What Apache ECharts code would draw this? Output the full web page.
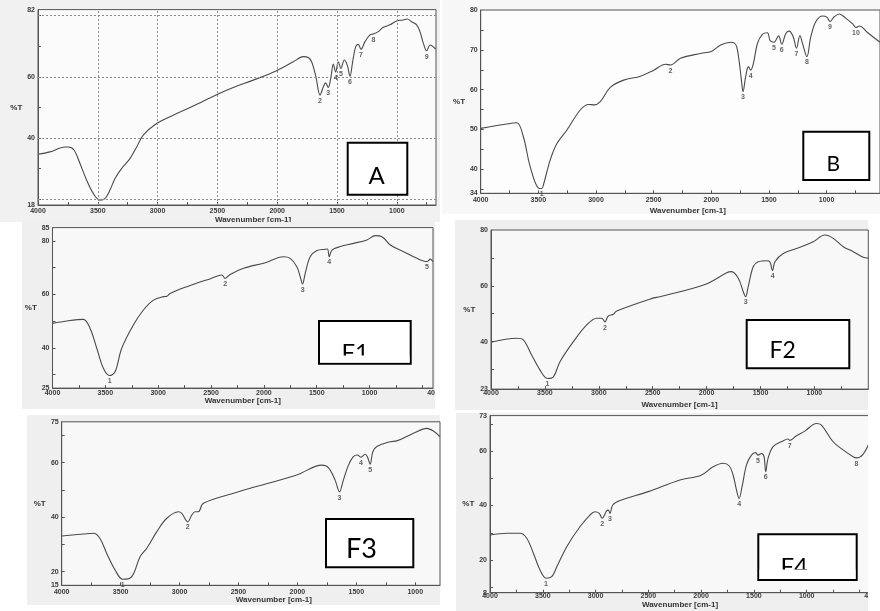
<!DOCTYPE html>
<html><head><meta charset="utf-8">
<script src="https://cdn.jsdelivr.net/npm/echarts@6/dist/echarts.min.js"></script>
<style>html,body{margin:0;padding:0;background:#fff}#c{width:880px;height:611px}</style>
</head><body><div id="c"></div>
<script>
// ---------- DATA (wavenumber cm-1, %T) ----------
const spectrumA = [[4000,34.6],[3900,35.4],[3774,37.0],[3746,37.0],[3699,36.0],[3649,31.6],[3593,26.1],[3538,21.8],[3482,19.6],[3440,20.1],[3398,22.9],[3356,26.7],[3300,30.0],[3231,33.2],[3175,37.0],[3120,40.9],[3008,44.7],[2869,47.4],[2702,50.4],[2503,54.2],[2367,56.5],[2200,58.9],[2004,62.0],[1865,64.9],[1782,66.6],[1740,66.3],[1712,64.9],[1676,60.0],[1642,54.0],[1614,56.7],[1595,58.0],[1573,56.5],[1550,60.0],[1531,64.2],[1511,61.6],[1489,64.9],[1467,62.7],[1439,65.5],[1414,63.8],[1391,60.2],[1369,64.9],[1344,69.8],[1322,70.6],[1299,69.0],[1266,71.5],[1224,73.7],[1196,74.0],[1155,74.8],[1113,76.2],[1057,77.0],[1001,78.3],[946,78.6],[912,78.9],[876,78.0],[834,77.0],[806,74.8],[778,71.0],[750,68.5],[722,70.4],[675,69.1]];
const peaksA = [[1642,54.0,'2'],[1573,56.5,'3'],[1511,61.6,'4'],[1467,62.7,'5'],[1391,60.2,'6'],[1299,69.0,'7'],[1196,74.0,'8'],[750,68.5,'9']];

const spectrumB = [[4000,50.3],[3774,51.4],[3687,51.7],[3630,48.2],[3571,40.7],[3499,35.3],[3470,35.2],[3456,36.1],[3397,42.4],[3339,46.5],[3252,49.9],[3137,54.9],[3064,56.3],[3015,56.2],[2963,57.0],[2876,60.6],[2760,62.4],[2615,63.4],[2499,64.9],[2397,66.4],[2354,66.2],[2267,67.9],[2093,69.1],[2000,69.6],[1919,71.2],[1832,71.9],[1800,71.7],[1780,70.8],[1760,67.5],[1739,62.4],[1725,59.5],[1702,63.3],[1678,65.8],[1658,64.9],[1635,66.6],[1600,71.6],[1557,73.9],[1513,74.3],[1490,72.3],[1456,71.9],[1417,73.5],[1389,71.4],[1354,74.1],[1325,74.7],[1290,73.3],[1261,70.4],[1232,73.6],[1209,71.6],[1171,68.3],[1137,73.3],[1093,77.1],[1035,78.5],[997,78.2],[971,77.1],[934,78.3],[890,79.0],[832,77.9],[774,76.5],[745,75.6],[716,76.0],[643,74.3],[537,71.9]];
const peaksB = [[3470,35.2,'1'],[2354,66.2,'2'],[1725,59.5,'3'],[1658,64.9,'4'],[1456,71.9,'5'],[1389,71.4,'6'],[1261,70.4,'7'],[1171,68.3,'8'],[971,77.1,'9'],[745,75.6,'10']];

const spectrumF1 = [[4000,49.2],[3866,50.1],[3708,50.7],[3645,47.4],[3581,39.9],[3519,32.4],[3460,29.7],[3408,31.1],[3345,39.9],[3235,48.6],[3140,54.2],[3045,57.9],[2951,59.2],[2920,59.3],[2887,60.4],[2729,62.9],[2499,66.0],[2398,67.3],[2367,66.0],[2319,67.5],[2193,69.8],[1994,71.8],[1814,74.1],[1751,73.5],[1688,70.4],[1656,66.6],[1634,63.9],[1609,67.9],[1562,74.1],[1498,76.4],[1420,76.9],[1398,77.0],[1382,74.1],[1356,76.6],[1277,77.9],[1152,79.1],[1025,80.4],[946,82.0],[883,81.6],[804,78.5],[678,76.0],[552,73.5],[457,72.3],[426,73.2],[400,72.3]];
const peaksF1 = [[3460,29.7,'1'],[2367,66.0,'2'],[1634,63.9,'3'],[1382,74.1,'4'],[457,72.3,'5']];

const spectrumF2 = [[4000,39.8],[3762,41.2],[3700,40.6],[3623,35.2],[3545,29.8],[3477,26.8],[3421,27.4],[3360,32.8],[3236,40.0],[3112,46.0],[3019,48.4],[2973,48.4],[2943,47.1],[2912,49.2],[2865,49.8],[2834,51.0],[2506,55.5],[2432,56.1],[2008,60.6],[1814,64.7],[1768,65.1],[1706,62.7],[1660,57.9],[1638,56.1],[1614,59.7],[1567,66.9],[1521,68.6],[1443,69.0],[1413,68.6],[1388,65.4],[1366,68.6],[1289,71.6],[1134,73.8],[1011,75.8],[902,78.2],[825,77.0],[732,74.0],[639,72.2],[547,70.2],[500,69.9]];
const peaksF2 = [[3477,26.8,'1'],[2943,47.1,'2'],[1638,56.1,'3'],[1388,65.4,'4']];

const spectrumF3 = [[4000,33.1],[3816,33.8],[3731,34.1],[3675,32.2],[3618,26.7],[3547,20.6],[3482,17.2],[3405,18.2],[3335,25.5],[3278,28.6],[3193,34.7],[3108,39.6],[3009,42.0],[2981,41.4],[2930,38.3],[2896,40.8],[2868,42.0],[2840,42.0],[2798,45.1],[2500,49.3],[2401,50.6],[2005,55.5],[1793,59.1],[1737,58.2],[1680,53.6],[1643,49.3],[1610,53.6],[1567,59.1],[1525,62.2],[1491,62.8],[1460,62.0],[1426,63.1],[1406,62.2],[1383,59.4],[1360,64.0],[1326,65.9],[1213,67.7],[1157,68.0],[1015,70.8],[902,72.6],[846,71.6],[790,69.5]];
const peaksF3 = [[3482,17.2,'1'],[2930,38.3,'2'],[1643,49.3,'3'],[1460,62.0,'4'],[1383,59.4,'5']];

const spectrumF4 = [[4000,29.2],[3841,29.8],[3715,29.8],[3652,28.0],[3589,22.5],[3526,16.3],[3469,13.3],[3415,13.9],[3367,17.5],[3273,24.9],[3148,32.2],[3053,36.5],[3006,37.7],[2965,37.1],[2937,35.3],[2911,36.9],[2894,38.1],[2879,38.3],[2863,37.1],[2837,40.2],[2768,41.8],[2500,45.1],[2201,49.4],[2005,51.0],[1886,54.2],[1792,55.5],[1735,54.6],[1697,51.2],[1665,45.7],[1640,42.6],[1612,46.9],[1570,54.9],[1523,58.5],[1483,59.4],[1461,58.5],[1429,59.1],[1404,57.9],[1388,52.4],[1366,57.3],[1318,61.6],[1224,63.7],[1176,64.4],[1160,63.9],[1097,65.6],[1018,67.3],[907,70.1],[860,69.5],[750,63.4],[655,60.4],[560,57.9],[529,57.5],[466,58.8],[403,63.4]];
const peaksF4 = [[3469,13.3,'1'],[2937,35.3,'2'],[2863,37.1,'3'],[1640,42.6,'4'],[1461,58.5,'5'],[1388,52.4,'6'],[1160,63.9,'7'],[529,57.5,'8']];

// axis ranges and tick labels
const xRangeA = [672, 4000], yRangeA = [18, 82];
const xRangeB = [537, 4000], yRangeB = [34, 80];
const xRangeF1 = [400, 4000], yRangeF1 = [25, 85];
const xRangeF2 = [500, 4000], yRangeF2 = [23, 80];
const xRangeF3 = [790, 4000], yRangeF3 = [15, 75];
const xRangeF4 = [400, 4000], yRangeF4 = [8, 73];

const xLabels = [4000, 3500, 3000, 2500, 2000, 1500, 1000];
const xLabelsExt = [4000, 3500, 3000, 2500, 2000, 1500, 1000, 400];
const xGridValues = [3500, 3000, 2500, 2000, 1500, 1000, 500];
const xTickValues = [3750, 3500, 3250, 3000, 2750, 2500, 2250, 2000, 1750, 1500, 1250, 1000, 750, 500];

const yLabelsA = [18, 40, 60, 82], yGridA = [20, 40, 60, 80], yTicksA = [20, 30, 40, 50, 60, 70, 80];
const yLabelsB = [34, 40, 50, 60, 70, 80], yGridB = [40, 50, 60, 70], yTicksB = [35, 40, 45, 50, 55, 60, 65, 70, 75];
const yLabelsF1 = [25, 40, 60, 80, 85], yGridF1 = [40, 60, 80], yTicksF1 = [30, 40, 50, 60, 70, 80];
const yLabelsF2 = [23, 40, 60, 80], yGridF2 = [40, 60], yTicksF2 = [30, 40, 50, 60, 70];
const yLabelsF3 = [15, 20, 40, 60, 75], yGridF3 = [20, 40, 60], yTicksF3 = [20, 30, 40, 50, 60, 70];
const yLabelsF4 = [8, 20, 40, 60, 73], yGridF4 = [20, 40, 60], yTicksF4 = [10, 20, 30, 40, 50, 60, 70];

const panelTitles = ['A', 'B', 'F1', 'F2', 'F3', 'F4'];

// ---------- LAYOUT / STYLE ----------
const F = '"Liberation Sans", Arial, sans-serif';
const BOXF = 'Lato, "Open Sans", sans-serif';
const layout = [
  {grid:{left:38, top:9.6, width:398, height:195.4}, bg:[0,0,440,222,'#f1f1f1'], plotBg:'#fbfbfb', xlm:3, xNameGap:9, shift:32, yNameGap:13, dotV:true,
   box:[347.7,142.7,59.6,52], txt:[368.5,176,24], cut:null},
  {grid:{left:480.7, top:10, width:399.3, height:183.3}, bg:[442,0,438,214,'#f7f7f7'], plotBg:'#fdfdfd', xlm:3, xNameGap:13, shift:15, yNameGap:14, dotV:false,
   box:[803.3,131.7,66,48.3], txt:[826.5,164,21], cut:null},
  {grid:{left:52.5, top:227.6, width:380.5, height:160.5}, bg:[22,222,413,187,'#efefef'], plotBg:'#f8f8f8', xlm:1, xNameGap:7, shift:0, yNameGap:13, dotV:false,
   box:[319,321,91.7,42.7], txt:[341.5,353,24], cut:355.5},
  {grid:{left:491, top:230, width:377.3, height:159.1}, bg:[455,220,413,190,'#efefef'], plotBg:'#f8f8f8', xlm:0, xNameGap:12, shift:0, yNameGap:8, dotV:false,
   box:[746.7,320,102.6,48.3], txt:[769.5,351,23], cut:null},
  {grid:{left:61.7, top:421.8, width:378.3, height:163.5}, bg:[27,415,413,190,'#efefef'], plotBg:'#f8f8f8', xlm:3, xNameGap:9, shift:46, yNameGap:16, dotV:false,
   box:[326,519,87.3,48.3], txt:[346,549,27], cut:null},
  {grid:{left:490, top:415.6, width:380, height:177.1}, bg:[456,413,412,198,'#efefef'], plotBg:'#f8f8f8', xlm:0, xNameGap:6, shift:0, yNameGap:11, dotV:false,
   box:[758.3,534.3,98.4,45.7], txt:[780.5,567,24], cut:569.5}
];

const panels = [
  {spec:spectrumA, peaks:peaksA, xr:xRangeA, yr:yRangeA, xl:xLabels, yl:yLabelsA, yg:yGridA, yt:yTicksA},
  {spec:spectrumB, peaks:peaksB, xr:xRangeB, yr:yRangeB, xl:xLabels, yl:yLabelsB, yg:yGridB, yt:yTicksB},
  {spec:spectrumF1, peaks:peaksF1, xr:xRangeF1, yr:yRangeF1, xl:xLabelsExt, yl:yLabelsF1, yg:yGridF1, yt:yTicksF1},
  {spec:spectrumF2, peaks:peaksF2, xr:xRangeF2, yr:yRangeF2, xl:xLabels, yl:yLabelsF2, yg:yGridF2, yt:yTicksF2},
  {spec:spectrumF3, peaks:peaksF3, xr:xRangeF3, yr:yRangeF3, xl:xLabels, yl:yLabelsF3, yg:yGridF3, yt:yTicksF3},
  {spec:spectrumF4, peaks:peaksF4, xr:xRangeF4, yr:yRangeF4, xl:xLabelsExt, yl:yLabelsF4, yg:yGridF4, yt:yTicksF4}
];

const grid = [], xAxis = [], yAxis = [], series = [], graphic = [];
const txt = () => ({fontFamily:F, fontWeight:'bold', fontSize:7, color:'#3a3a3a'});
const plain = v => String(Math.round(v));

panels.forEach((p, k) => {
  const L = layout[k], z0 = 10 * k;
  graphic.push({type:'rect', silent:true, z:z0+1, shape:{x:L.bg[0], y:L.bg[1], width:L.bg[2], height:L.bg[3]}, style:{fill:L.bg[4]}});
  grid.push(Object.assign({show:true, backgroundColor:L.plotBg, borderColor:'#555', borderWidth:1, z:z0+2}, L.grid));
  xAxis.push({type:'value', gridIndex:k, inverse:true, min:p.xr[0], max:p.xr[1], z:z0+3,
    name:'Wavenumber [cm-1]', nameLocation:'middle', nameGap:L.xNameGap,
    nameTextStyle:{fontFamily:F, fontWeight:'bold', fontSize:8, color:'#333', padding:[0,0,0,L.shift]},
    axisLine:{show:true, onZero:false, lineStyle:{color:'#555', width:1}},
    axisTick:{show:true, inside:true, length:3, customValues:xTickValues.filter(v => v > p.xr[0] && v < p.xr[1]), lineStyle:{color:'#555'}},
    axisLabel:Object.assign({show:true, customValues:p.xl, margin:L.xlm, hideOverlap:false, formatter:plain}, txt()),
    splitLine:{show:false}});
  yAxis.push({type:'value', gridIndex:k, min:p.yr[0], max:p.yr[1], z:z0+3,
    name:'%T', nameLocation:'middle', nameRotate:0, nameGap:L.yNameGap,
    nameTextStyle:{fontFamily:F, fontWeight:'bold', fontSize:8, color:'#333'},
    axisLine:{show:true, onZero:false, lineStyle:{color:'#555', width:1}},
    axisTick:{show:true, inside:true, length:3, customValues:p.yt, lineStyle:{color:'#555'}},
    axisLabel:Object.assign({show:true, customValues:p.yl, margin:3, hideOverlap:false, formatter:plain}, txt()),
    splitLine:{show:false}});
  const gl = [];
  xGridValues.filter(v => v > p.xr[0] + 5 && v < p.xr[1]).forEach(v => gl.push({xAxis:v,
    lineStyle:{type:L.dotV ? [2,2] : 'solid', color:L.dotV ? '#8a8a8a' : '#b4b4b4', width:1}}));
  p.yg.filter(v => v > p.yr[0] && v < p.yr[1]).forEach(v => gl.push({yAxis:v,
    lineStyle:{type:[2,2], color:'#8a8a8a', width:1}}));
  series.push({type:'line', xAxisIndex:k, yAxisIndex:k, data:p.spec, showSymbol:false, silent:true, z:z0+3,
    lineStyle:{opacity:0}, animation:false,
    markLine:{silent:true, symbol:['none','none'], label:{show:false}, animation:false, data:gl}});
  series.push({type:'line', name:panelTitles[k], xAxisIndex:k, yAxisIndex:k, data:p.spec, showSymbol:false, silent:true,
    smooth:0.35, z:z0+4, animation:false,
    lineStyle:{color:'#4a4a4a', width:1.1}});
  series.push({type:'scatter', xAxisIndex:k, yAxisIndex:k, data:p.peaks, symbolSize:0.5, silent:true, z:z0+5, animation:false,
    itemStyle:{color:'rgba(0,0,0,0)'},
    label:Object.assign({show:true, position:'bottom', distance:2, formatter:q => q.data[2]}, txt())});
  // sample label box
  graphic.push({type:'rect', silent:true, z:z0+6, shape:{x:L.box[0], y:L.box[1], width:L.box[2], height:L.box[3]},
    style:{fill:'#fff', stroke:'#000', lineWidth:2}});
  graphic.push({type:'text', silent:true, z:z0+7, style:{text:panelTitles[k], x:L.txt[0], y:L.txt[1],
    font:L.txt[2] + 'px ' + BOXF, fontSize:L.txt[2], fontFamily:BOXF, fill:'#000',
    textAlign:'left', align:'left', textVerticalAlign:'middle', verticalAlign:'middle'}});
  if (L.cut !== null) {
    graphic.push({type:'rect', silent:true, z:z0+8, shape:{x:L.box[0]+1.2, y:L.cut, width:L.box[2]-2.4, height:L.box[1]+L.box[3]-1.2-L.cut},
      style:{fill:'#fff'}});
  }
});
// image crop edges
graphic.push({type:'rect', silent:true, z:29, shape:{x:435, y:222, width:20, height:188}, style:{fill:'#fff'}});
graphic.push({type:'rect', silent:true, z:59, shape:{x:868, y:413, width:12, height:198}, style:{fill:'#fff'}});

const chart = echarts.init(document.getElementById('c'), null, {renderer:'canvas'});
chart.setOption({animation:false, backgroundColor:'#fff', grid, xAxis, yAxis, series, graphic});
</script>
</body></html>
